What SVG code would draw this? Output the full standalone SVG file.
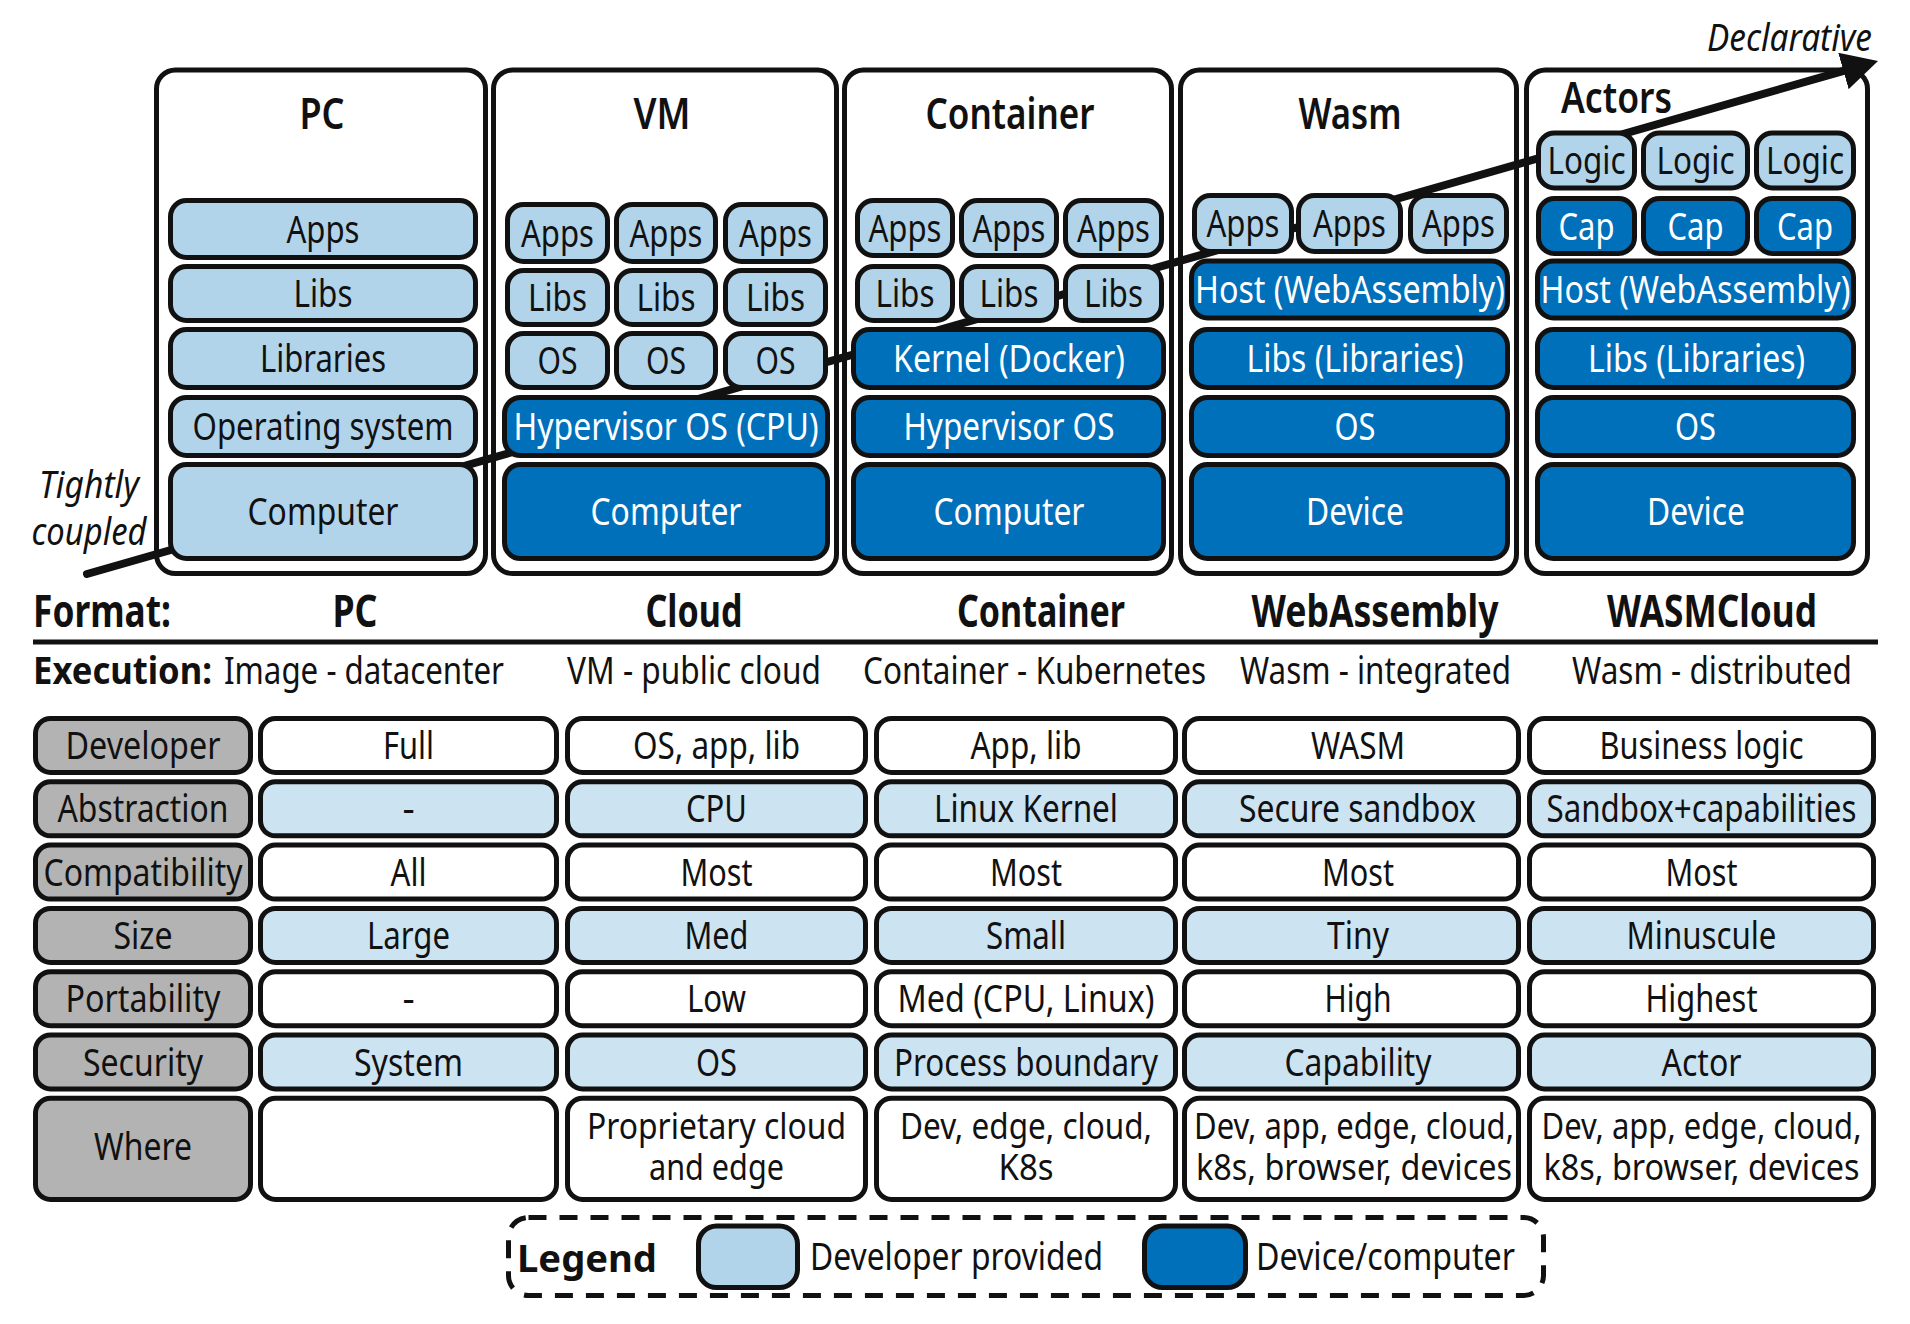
<svg xmlns="http://www.w3.org/2000/svg" width="1910" height="1324" viewBox="0 0 1910 1324">
<defs>
<style>
text { font-family: "Noto Sans","Open Sans","Liberation Sans",sans-serif; font-size:38px; fill:#111; text-anchor:middle; }
.w { fill:#fff; }
.frame { fill:none; stroke:#111; stroke-width:5; }
.lb { fill:#b1d4ea; stroke:#111; stroke-width:5; }
.db { fill:#0070bb; stroke:#111; stroke-width:5; }
.cw { fill:#fff; stroke:#111; stroke-width:5; }
.cb { fill:#cce3f1; stroke:#111; stroke-width:5; }
.cg { fill:#b3b3b3; stroke:#111; stroke-width:5; }
.title { font-size:44px; font-weight:600; }
.fmt { font-size:44px; font-weight:700; }
.it { font-style:italic; }
.sm { font-size:36px; }
</style>
<marker id="arr" markerUnits="userSpaceOnUse" viewBox="0 0 36 38" markerWidth="36" markerHeight="38" refX="3" refY="19" orient="auto"><path d="M0,0 L36,19 L0,38 z" fill="#111"/></marker>
</defs>
<rect x="0" y="0" width="1910" height="1324" fill="#fff"/>

<g id="connectors">
<line x1="87" y1="574" x2="1846.3" y2="70.1" stroke="#111" stroke-width="8" stroke-linecap="round" marker-end="url(#arr)"/>
<text class="it" x="89" y="498" font-size="37" textLength="100" lengthAdjust="spacingAndGlyphs">Tightly</text>
<text class="it" x="89" y="545" font-size="37" textLength="115" lengthAdjust="spacingAndGlyphs">coupled</text>
<text class="it" x="1789.5" y="51" font-size="35" textLength="165" lengthAdjust="spacingAndGlyphs">Declarative</text>
</g>

<g id="pc">
<rect class="frame" x="156.5" y="70" width="329" height="503.5" rx="19"/>
<text class="title" x="322" y="129" textLength="45" lengthAdjust="spacingAndGlyphs">PC</text>
<rect class="lb" x="170.5" y="200.5" width="305" height="57" rx="16"/>
<text x="323" y="242.5" textLength="73" lengthAdjust="spacingAndGlyphs">Apps</text>
<rect class="lb" x="170.5" y="266.5" width="305" height="54" rx="16"/>
<text x="323" y="307" textLength="59" lengthAdjust="spacingAndGlyphs">Libs</text>
<rect class="lb" x="170.5" y="329.5" width="305" height="58" rx="16"/>
<text x="323" y="372" textLength="126" lengthAdjust="spacingAndGlyphs">Libraries</text>
<rect class="lb" x="170.5" y="397.5" width="305" height="58" rx="16"/>
<text x="323" y="440" textLength="261" lengthAdjust="spacingAndGlyphs">Operating system</text>
<rect class="lb" x="170.5" y="464.5" width="305" height="94" rx="16"/>
<text x="323" y="525" textLength="151" lengthAdjust="spacingAndGlyphs">Computer</text>
</g>

<g id="vm">
<rect class="frame" x="493.5" y="70" width="343" height="503.5" rx="19"/>
<text class="title" x="662" y="129" textLength="57" lengthAdjust="spacingAndGlyphs">VM</text>
<rect class="lb" x="507.5" y="204.5" width="100" height="57" rx="16"/>
<rect class="lb" x="616.5" y="204.5" width="99" height="57" rx="16"/>
<rect class="lb" x="725.5" y="204.5" width="100" height="57" rx="16"/>
<text x="557.5" y="246.5" textLength="73" lengthAdjust="spacingAndGlyphs">Apps</text>
<text x="666" y="246.5" textLength="73" lengthAdjust="spacingAndGlyphs">Apps</text>
<text x="775.5" y="246.5" textLength="73" lengthAdjust="spacingAndGlyphs">Apps</text>
<rect class="lb" x="507.5" y="270.5" width="100" height="54" rx="16"/>
<rect class="lb" x="616.5" y="270.5" width="99" height="54" rx="16"/>
<rect class="lb" x="725.5" y="270.5" width="100" height="54" rx="16"/>
<text x="557.5" y="311" textLength="59" lengthAdjust="spacingAndGlyphs">Libs</text>
<text x="666" y="311" textLength="59" lengthAdjust="spacingAndGlyphs">Libs</text>
<text x="775.5" y="311" textLength="59" lengthAdjust="spacingAndGlyphs">Libs</text>
<rect class="lb" x="507.5" y="333.5" width="100" height="54" rx="16"/>
<rect class="lb" x="616.5" y="333.5" width="99" height="54" rx="16"/>
<rect class="lb" x="725.5" y="333.5" width="100" height="54" rx="16"/>
<text x="557.5" y="374" textLength="40" lengthAdjust="spacingAndGlyphs">OS</text>
<text x="666" y="374" textLength="40" lengthAdjust="spacingAndGlyphs">OS</text>
<text x="775.5" y="374" textLength="40" lengthAdjust="spacingAndGlyphs">OS</text>
<rect class="db" x="504.5" y="397.5" width="323" height="58" rx="16"/>
<text class="w" x="666" y="440" textLength="305" lengthAdjust="spacingAndGlyphs">Hypervisor OS (CPU)</text>
<rect class="db" x="504.5" y="464.5" width="323" height="94" rx="16"/>
<text class="w" x="666" y="525" textLength="151" lengthAdjust="spacingAndGlyphs">Computer</text>
</g>

<g id="container">
<rect class="frame" x="844.5" y="70" width="327" height="503.5" rx="19"/>
<text class="title" x="1010" y="129" textLength="169" lengthAdjust="spacingAndGlyphs">Container</text>
<rect class="lb" x="857.5" y="200.5" width="95" height="55" rx="16"/>
<rect class="lb" x="961.5" y="200.5" width="95" height="55" rx="16"/>
<rect class="lb" x="1065.5" y="200.5" width="96" height="55" rx="16"/>
<text x="905" y="241.5" textLength="73" lengthAdjust="spacingAndGlyphs">Apps</text>
<text x="1009" y="241.5" textLength="73" lengthAdjust="spacingAndGlyphs">Apps</text>
<text x="1113.5" y="241.5" textLength="73" lengthAdjust="spacingAndGlyphs">Apps</text>
<rect class="lb" x="857.5" y="266.5" width="95" height="54" rx="16"/>
<rect class="lb" x="961.5" y="266.5" width="95" height="54" rx="16"/>
<rect class="lb" x="1065.5" y="266.5" width="96" height="54" rx="16"/>
<text x="905" y="307" textLength="59" lengthAdjust="spacingAndGlyphs">Libs</text>
<text x="1009" y="307" textLength="59" lengthAdjust="spacingAndGlyphs">Libs</text>
<text x="1113.5" y="307" textLength="59" lengthAdjust="spacingAndGlyphs">Libs</text>
<rect class="db" x="853.5" y="329.5" width="310" height="58" rx="16"/>
<text class="w" x="1009" y="372" textLength="232" lengthAdjust="spacingAndGlyphs">Kernel (Docker)</text>
<rect class="db" x="853.5" y="397.5" width="310" height="58" rx="16"/>
<text class="w" x="1009" y="440" textLength="211" lengthAdjust="spacingAndGlyphs">Hypervisor OS</text>
<rect class="db" x="853.5" y="464.5" width="310" height="94" rx="16"/>
<text class="w" x="1009" y="525" textLength="151" lengthAdjust="spacingAndGlyphs">Computer</text>
</g>

<g id="wasm">
<rect class="frame" x="1180.5" y="70" width="336" height="503.5" rx="19"/>
<text class="title" x="1350" y="129" textLength="103" lengthAdjust="spacingAndGlyphs">Wasm</text>
<rect class="lb" x="1194.5" y="195.5" width="97" height="56" rx="16"/>
<rect class="lb" x="1298.5" y="195.5" width="102" height="56" rx="16"/>
<rect class="lb" x="1410.5" y="195.5" width="96" height="56" rx="16"/>
<text x="1243" y="237" textLength="73" lengthAdjust="spacingAndGlyphs">Apps</text>
<text x="1349.5" y="237" textLength="73" lengthAdjust="spacingAndGlyphs">Apps</text>
<text x="1458.5" y="237" textLength="73" lengthAdjust="spacingAndGlyphs">Apps</text>
<rect class="db" x="1191.5" y="261" width="316" height="57" rx="16"/>
<text class="w" x="1350" y="303" textLength="310" lengthAdjust="spacingAndGlyphs">Host (WebAssembly)</text>
<rect class="db" x="1191.5" y="329.5" width="316" height="58" rx="16"/>
<text class="w" x="1355" y="372" textLength="217" lengthAdjust="spacingAndGlyphs">Libs (Libraries)</text>
<rect class="db" x="1191.5" y="397.5" width="316" height="58" rx="16"/>
<text class="w" x="1355" y="440" textLength="41" lengthAdjust="spacingAndGlyphs">OS</text>
<rect class="db" x="1191.5" y="464.5" width="316" height="94" rx="16"/>
<text class="w" x="1355" y="525" textLength="98" lengthAdjust="spacingAndGlyphs">Device</text>
</g>

<g id="actors">
<rect class="frame" x="1526.5" y="70" width="341" height="503.5" rx="19"/>
<text class="title" x="1616.5" y="113" textLength="111" lengthAdjust="spacingAndGlyphs">Actors</text>
<rect class="lb" x="1538.5" y="133" width="96" height="55" rx="16"/>
<rect class="lb" x="1643.5" y="133" width="104" height="55" rx="16"/>
<rect class="lb" x="1756.5" y="133" width="97" height="55" rx="16"/>
<text x="1586.5" y="174" textLength="78" lengthAdjust="spacingAndGlyphs">Logic</text>
<text x="1695.5" y="174" textLength="78" lengthAdjust="spacingAndGlyphs">Logic</text>
<text x="1805" y="174" textLength="78" lengthAdjust="spacingAndGlyphs">Logic</text>
<rect class="db" x="1538.5" y="198.5" width="96" height="55" rx="16"/>
<rect class="db" x="1643.5" y="198.5" width="104" height="55" rx="16"/>
<rect class="db" x="1756.5" y="198.5" width="97" height="55" rx="16"/>
<text class="w" x="1586.5" y="239.5" textLength="56" lengthAdjust="spacingAndGlyphs">Cap</text>
<text class="w" x="1695.5" y="239.5" textLength="56" lengthAdjust="spacingAndGlyphs">Cap</text>
<text class="w" x="1805" y="239.5" textLength="56" lengthAdjust="spacingAndGlyphs">Cap</text>
<rect class="db" x="1537.5" y="261" width="316" height="57" rx="16"/>
<text class="w" x="1695.5" y="303" textLength="310" lengthAdjust="spacingAndGlyphs">Host (WebAssembly)</text>
<rect class="db" x="1537.5" y="329.5" width="316" height="58" rx="16"/>
<text class="w" x="1696.5" y="372" textLength="217" lengthAdjust="spacingAndGlyphs">Libs (Libraries)</text>
<rect class="db" x="1537.5" y="397.5" width="316" height="58" rx="16"/>
<text class="w" x="1695.5" y="440" textLength="41" lengthAdjust="spacingAndGlyphs">OS</text>
<rect class="db" x="1537.5" y="464.5" width="316" height="94" rx="16"/>
<text class="w" x="1696" y="525" textLength="98" lengthAdjust="spacingAndGlyphs">Device</text>
</g>

<g id="format-row">
<text class="fmt" x="102" y="627" textLength="138" lengthAdjust="spacingAndGlyphs">Format:</text>
<text class="fmt" x="355" y="627" textLength="45" lengthAdjust="spacingAndGlyphs">PC</text>
<text class="fmt" x="694" y="627" textLength="97" lengthAdjust="spacingAndGlyphs">Cloud</text>
<text class="fmt" x="1041" y="627" textLength="168" lengthAdjust="spacingAndGlyphs">Container</text>
<text class="fmt" x="1375" y="627" textLength="247" lengthAdjust="spacingAndGlyphs">WebAssembly</text>
<text class="fmt" x="1712" y="627" textLength="210" lengthAdjust="spacingAndGlyphs">WASMCloud</text>
<line x1="33" y1="642" x2="1878" y2="642" stroke="#111" stroke-width="5"/>
</g>

<g id="execution-row">
<text x="122.5" y="684" font-size="42" font-weight="700" textLength="179" lengthAdjust="spacingAndGlyphs">Execution:</text>
<text x="364" y="684" textLength="280" lengthAdjust="spacingAndGlyphs">Image - datacenter</text>
<text x="694" y="684" textLength="254" lengthAdjust="spacingAndGlyphs">VM - public cloud</text>
<text x="1034.5" y="684" textLength="343" lengthAdjust="spacingAndGlyphs">Container - Kubernetes</text>
<text x="1375.5" y="684" textLength="271" lengthAdjust="spacingAndGlyphs">Wasm - integrated</text>
<text x="1712" y="684" textLength="280" lengthAdjust="spacingAndGlyphs">Wasm - distributed</text>
</g>

<g id="row-developer">
<rect class="cg" x="35.5" y="718.5" width="215" height="54" rx="15"/>
<rect class="cw" x="260.5" y="718.5" width="296" height="54" rx="15"/>
<rect class="cw" x="567.5" y="718.5" width="298" height="54" rx="15"/>
<rect class="cw" x="876.5" y="718.5" width="299" height="54" rx="15"/>
<rect class="cw" x="1184.5" y="718.5" width="334" height="54" rx="15"/>
<rect class="cw" x="1529.5" y="718.5" width="344" height="54" rx="15"/>
<text x="143" y="759" textLength="155" lengthAdjust="spacingAndGlyphs">Developer</text>
<text x="408.5" y="759" textLength="51" lengthAdjust="spacingAndGlyphs">Full</text>
<text x="716.5" y="759" textLength="167" lengthAdjust="spacingAndGlyphs">OS, app, lib</text>
<text x="1026" y="759" textLength="111" lengthAdjust="spacingAndGlyphs">App, lib</text>
<text x="1358" y="759" textLength="94" lengthAdjust="spacingAndGlyphs">WASM</text>
<text x="1701.5" y="759" textLength="204" lengthAdjust="spacingAndGlyphs">Business logic</text>
</g>

<g id="row-abstraction">
<rect class="cg" x="35.5" y="781.8" width="215" height="54" rx="15"/>
<rect class="cb" x="260.5" y="781.8" width="296" height="54" rx="15"/>
<rect class="cb" x="567.5" y="781.8" width="298" height="54" rx="15"/>
<rect class="cb" x="876.5" y="781.8" width="299" height="54" rx="15"/>
<rect class="cb" x="1184.5" y="781.8" width="334" height="54" rx="15"/>
<rect class="cb" x="1529.5" y="781.8" width="344" height="54" rx="15"/>
<text x="143" y="822.3" textLength="171" lengthAdjust="spacingAndGlyphs">Abstraction</text>
<text x="408.5" y="822.3">-</text>
<text x="716.5" y="822.3" textLength="61" lengthAdjust="spacingAndGlyphs">CPU</text>
<text x="1026" y="822.3" textLength="184" lengthAdjust="spacingAndGlyphs">Linux Kernel</text>
<text x="1357.5" y="822.3" textLength="237" lengthAdjust="spacingAndGlyphs">Secure sandbox</text>
<text x="1701.5" y="822.3" textLength="310" lengthAdjust="spacingAndGlyphs">Sandbox+capabilities</text>
</g>

<g id="row-compatibility">
<rect class="cg" x="35.5" y="845.1" width="215" height="54" rx="15"/>
<rect class="cw" x="260.5" y="845.1" width="296" height="54" rx="15"/>
<rect class="cw" x="567.5" y="845.1" width="298" height="54" rx="15"/>
<rect class="cw" x="876.5" y="845.1" width="299" height="54" rx="15"/>
<rect class="cw" x="1184.5" y="845.1" width="334" height="54" rx="15"/>
<rect class="cw" x="1529.5" y="845.1" width="344" height="54" rx="15"/>
<text x="143" y="885.6" textLength="199" lengthAdjust="spacingAndGlyphs">Compatibility</text>
<text x="408.5" y="885.6" textLength="36" lengthAdjust="spacingAndGlyphs">All</text>
<text x="716.5" y="885.6" textLength="72" lengthAdjust="spacingAndGlyphs">Most</text>
<text x="1026" y="885.6" textLength="72" lengthAdjust="spacingAndGlyphs">Most</text>
<text x="1358" y="885.6" textLength="72" lengthAdjust="spacingAndGlyphs">Most</text>
<text x="1701.5" y="885.6" textLength="72" lengthAdjust="spacingAndGlyphs">Most</text>
</g>

<g id="row-size">
<rect class="cg" x="35.5" y="908.4" width="215" height="54" rx="15"/>
<rect class="cb" x="260.5" y="908.4" width="296" height="54" rx="15"/>
<rect class="cb" x="567.5" y="908.4" width="298" height="54" rx="15"/>
<rect class="cb" x="876.5" y="908.4" width="299" height="54" rx="15"/>
<rect class="cb" x="1184.5" y="908.4" width="334" height="54" rx="15"/>
<rect class="cb" x="1529.5" y="908.4" width="344" height="54" rx="15"/>
<text x="143" y="948.9" textLength="59" lengthAdjust="spacingAndGlyphs">Size</text>
<text x="408.5" y="948.9" textLength="83" lengthAdjust="spacingAndGlyphs">Large</text>
<text x="716.5" y="948.9" textLength="64" lengthAdjust="spacingAndGlyphs">Med</text>
<text x="1026" y="948.9" textLength="80" lengthAdjust="spacingAndGlyphs">Small</text>
<text x="1358" y="948.9" textLength="62" lengthAdjust="spacingAndGlyphs">Tiny</text>
<text x="1701.5" y="948.9" textLength="150" lengthAdjust="spacingAndGlyphs">Minuscule</text>
</g>

<g id="row-portability">
<rect class="cg" x="35.5" y="971.7" width="215" height="54" rx="15"/>
<rect class="cw" x="260.5" y="971.7" width="296" height="54" rx="15"/>
<rect class="cw" x="567.5" y="971.7" width="298" height="54" rx="15"/>
<rect class="cw" x="876.5" y="971.7" width="299" height="54" rx="15"/>
<rect class="cw" x="1184.5" y="971.7" width="334" height="54" rx="15"/>
<rect class="cw" x="1529.5" y="971.7" width="344" height="54" rx="15"/>
<text x="143" y="1012.2" textLength="155" lengthAdjust="spacingAndGlyphs">Portability</text>
<text x="408.5" y="1012.2">-</text>
<text x="716.5" y="1012.2" textLength="59" lengthAdjust="spacingAndGlyphs">Low</text>
<text x="1026" y="1012.2" textLength="257" lengthAdjust="spacingAndGlyphs">Med (CPU, Linux)</text>
<text x="1358" y="1012.2" textLength="67" lengthAdjust="spacingAndGlyphs">High</text>
<text x="1701.5" y="1012.2" textLength="112" lengthAdjust="spacingAndGlyphs">Highest</text>
</g>

<g id="row-security">
<rect class="cg" x="35.5" y="1035" width="215" height="54" rx="15"/>
<rect class="cb" x="260.5" y="1035" width="296" height="54" rx="15"/>
<rect class="cb" x="567.5" y="1035" width="298" height="54" rx="15"/>
<rect class="cb" x="876.5" y="1035" width="299" height="54" rx="15"/>
<rect class="cb" x="1184.5" y="1035" width="334" height="54" rx="15"/>
<rect class="cb" x="1529.5" y="1035" width="344" height="54" rx="15"/>
<text x="143" y="1075.5" textLength="120" lengthAdjust="spacingAndGlyphs">Security</text>
<text x="408.5" y="1075.5" textLength="109" lengthAdjust="spacingAndGlyphs">System</text>
<text x="716.5" y="1075.5" textLength="41" lengthAdjust="spacingAndGlyphs">OS</text>
<text x="1026" y="1075.5" textLength="264" lengthAdjust="spacingAndGlyphs">Process boundary</text>
<text x="1358" y="1075.5" textLength="147" lengthAdjust="spacingAndGlyphs">Capability</text>
<text x="1701.5" y="1075.5" textLength="80" lengthAdjust="spacingAndGlyphs">Actor</text>
</g>

<g id="row-where">
<rect class="cg" x="35.5" y="1098.3" width="215" height="101.2" rx="15"/>
<rect class="cw" x="260.5" y="1098.3" width="296" height="101.2" rx="15"/>
<rect class="cw" x="567.5" y="1098.3" width="298" height="101.2" rx="15"/>
<rect class="cw" x="876.5" y="1098.3" width="299" height="101.2" rx="15"/>
<rect class="cw" x="1184.5" y="1098.3" width="334" height="101.2" rx="15"/>
<rect class="cw" x="1529.5" y="1098.3" width="344" height="101.2" rx="15"/>
<text x="143" y="1160" textLength="98" lengthAdjust="spacingAndGlyphs">Where</text>
<text class="sm" x="716.5" y="1139" textLength="259" lengthAdjust="spacingAndGlyphs">Proprietary cloud</text>
<text class="sm" x="716.5" y="1180" textLength="135" lengthAdjust="spacingAndGlyphs">and edge</text>
<text class="sm" x="1026" y="1139" textLength="252" lengthAdjust="spacingAndGlyphs">Dev, edge, cloud,</text>
<text class="sm" x="1026" y="1180" textLength="55" lengthAdjust="spacingAndGlyphs">K8s</text>
<text class="sm" x="1354" y="1139" textLength="320" lengthAdjust="spacingAndGlyphs">Dev, app, edge, cloud,</text>
<text class="sm" x="1354" y="1180" textLength="316" lengthAdjust="spacingAndGlyphs">k8s, browser, devices</text>
<text class="sm" x="1701.5" y="1139" textLength="320" lengthAdjust="spacingAndGlyphs">Dev, app, edge, cloud,</text>
<text class="sm" x="1701.5" y="1180" textLength="316" lengthAdjust="spacingAndGlyphs">k8s, browser, devices</text>
</g>

<g id="legend">
<rect x="508.5" y="1217.5" width="1035" height="78" rx="20" fill="none" stroke="#111" stroke-width="5" stroke-dasharray="18 13"/>
<text x="587" y="1272" font-size="50" font-weight="700" textLength="140" lengthAdjust="spacingAndGlyphs">Legend</text>
<rect class="lb" x="698.5" y="1226" width="99" height="61.5" rx="18"/>
<text x="956.5" y="1270" textLength="293" lengthAdjust="spacingAndGlyphs">Developer provided</text>
<rect class="db" x="1144.5" y="1226" width="101" height="61.5" rx="18"/>
<text x="1385.5" y="1270" textLength="259" lengthAdjust="spacingAndGlyphs">Device/computer</text>
</g>
</svg>
